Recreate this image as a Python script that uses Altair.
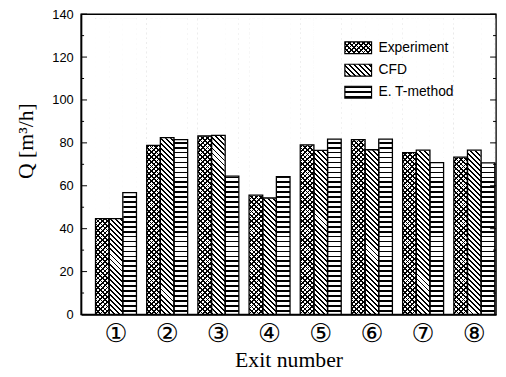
import math
import altair as alt
import pandas as pd

# ---- data ----
exits = ["①", "②", "③", "④", "⑤", "⑥", "⑦", "⑧"]
series = ["Experiment", "CFD", "E. T-method"]
experiment = [44.7, 78.8, 83.2, 55.6, 79.1, 81.5, 75.5, 73.4]
cfd = [44.7, 82.4, 83.5, 54.3, 76.5, 76.8, 76.6, 76.6]
et_method = [56.8, 81.5, 64.5, 64.3, 81.7, 81.7, 70.8, 70.7]
major_ticks = [0, 20, 40, 60, 80, 100, 120, 140]
minor_ticks = [10, 30, 50, 70, 90, 110, 130]

values = {"Experiment": experiment, "CFD": cfd, "E. T-method": et_method}
df = pd.DataFrame([
    {"exit": e, "series": s, "value": values[s][i]}
    for s in series for i, e in enumerate(exits)
])

# ---- layout / style ----
W, H = 420, 304
YMAX = 140
STRIPE_TOP = 138
P_IN, P_OUT, ALIGN = 0.2, 0.153, 0.92
step = W / (len(exits) - P_IN + 2 * P_OUT)
bar_w = step * (1 - P_IN) / len(series)
bar_h = H * STRIPE_TOP / YMAX
CLEAR = "rgba(255,255,255,0)"


def stripes(w, h, direction, period, thick, color="black", bg="white"):
    if direction == "h":
        x1, y1, x2, y2 = 0, 0, 0, 1
        D = h
    else:
        k = (w + h) / (w * w + h * h)
        D = (w + h) / math.sqrt(2)
        if direction == "back":
            x1, y1, x2, y2 = 0, 1, k * w, 1 - k * h
        else:
            x1, y1, x2, y2 = 0, 0, k * w, k * h
    n = D / period
    f = thick / period
    stops = []
    for i in range(int(math.ceil(n))):
        a = min(i / n, 1)
        b = min((i + f) / n, 1)
        c = min((i + 1) / n, 1)
        stops += [(a, color), (b, color), (b, bg), (c, bg)]
    return {
        "gradient": "linear", "x1": x1, "y1": y1, "x2": x2, "y2": y2,
        "stops": [{"offset": round(o, 6), "color": col} for o, col in stops],
    }


def patterns(s, w, h):
    if s == "Experiment":
        return [stripes(w, h, "fwd", 3.4, 1.2), stripes(w, h, "back", 3.4, 1.2, bg=CLEAR)]
    if s == "CFD":
        return [stripes(w, h, "back", 3.6, 1.4)]
    return [stripes(w, h, "h", 5.0, 1.7)]


x_scale = alt.Scale(domain=exits, paddingInner=P_IN, paddingOuter=P_OUT, align=ALIGN)
xo_scale = alt.Scale(domain=series, paddingInner=0, paddingOuter=0)
y_scale = alt.Scale(domain=[0, YMAX], nice=False, zero=True)

x_axis = alt.Axis(
    title="Exit number", labelAngle=0, ticks=False, tickSize=0, labelPadding=6,
    labelFont="DejaVu Sans", labelFontSize=26, labelColor="black",
    domain=True, domainColor="black", domainWidth=1.5, zindex=1, grid=False,
    titleFont="Liberation Serif", titleFontSize=22, titleFontWeight="normal",
    titleColor="black", titleY=53, titleBaseline="alphabetic",
)
y_axis = alt.Axis(
    values=major_ticks, title="Q [m³/h]", ticks=False, tickSize=0, labelPadding=8,
    labelFont="Liberation Sans", labelFontSize=13, labelColor="black",
    domain=True, domainColor="black", domainWidth=1.5, zindex=1, grid=False,
    titleFont="Liberation Serif", titleFontSize=22, titleFontWeight="normal",
    titleColor="black", titleAngle=270, titleX=-49, titleY=128,
    titleAlign="center", titleBaseline="alphabetic",
)

X = alt.X("exit:N", sort=exits, scale=x_scale, axis=x_axis)
XO = alt.XOffset("series:N", sort=series, scale=xo_scale)

base = alt.Chart(df).transform_calculate(stripe_top=str(STRIPE_TOP), zero="0")

layers = []
# patterned bars (uniform full-height, masked above the value)
for s in series:
    for g in patterns(s, bar_w, bar_h):
        layers.append(
            base.transform_filter(alt.datum.series == s).mark_bar(fill=g).encode(
                x=X, xOffset=XO,
                y=alt.Y("stripe_top:Q", scale=y_scale, axis=y_axis),
                y2=alt.Y2("zero:Q"),
            )
        )
# white mask above each bar
layers.append(
    base.mark_bar(fill="white", stroke="white", strokeWidth=1).encode(
        x=X, xOffset=XO,
        y=alt.Y("value:Q", scale=y_scale, axis=y_axis), y2=alt.Y2("stripe_top:Q")
    )
)
# bar outlines
layers.append(
    base.mark_bar(fillOpacity=0, stroke="black", strokeWidth=1.3).encode(
        x=X, xOffset=XO, y=alt.Y("value:Q", scale=y_scale, axis=y_axis)
    )
)


def tick_layer(vals, x0, x1):
    return alt.Chart(pd.DataFrame({"t": vals})).mark_rule(color="black", strokeWidth=1).encode(
        x=alt.value(x0), x2=alt.value(x1), y=alt.Y("t:Q", scale=y_scale, axis=y_axis)
    )


layers += [
    tick_layer(major_ticks, 0, 6), tick_layer(minor_ticks, 0, 3),
    tick_layer(major_ticks, W - 6, W), tick_layer(minor_ticks, W - 3, W),
]

# legend
leg_x0, leg_x1, leg_tx = 267, 294, 301
leg_y = [34, 56.7, 79]
SW_W, SW_H = leg_x1 - leg_x0, 12
for i, s in enumerate(series):
    one = pd.DataFrame({"name": [s]})
    yc = leg_y[i]
    for g in patterns(s, SW_W, SW_H):
        layers.append(
            alt.Chart(one).mark_rect(fill=g).encode(
                x=alt.value(leg_x0), x2=alt.value(leg_x1),
                y=alt.value(yc - SW_H / 2), y2=alt.value(yc + SW_H / 2)
            )
        )
    layers.append(
        alt.Chart(one).mark_rect(fillOpacity=0, stroke="black", strokeWidth=1.2).encode(
            x=alt.value(leg_x0), x2=alt.value(leg_x1),
            y=alt.value(yc - SW_H / 2), y2=alt.value(yc + SW_H / 2)
        )
    )
    layers.append(
        alt.Chart(one).mark_text(
            align="left", baseline="middle", font="Liberation Sans", fontSize=14, color="black"
        ).encode(x=alt.value(leg_tx), y=alt.value(yc), text="name:N")
    )

chart = alt.layer(*layers).properties(
    width=W, height=H, background="white",
    autosize=alt.AutoSizeParams(type="none"),
    padding={"left": 74, "top": 4, "right": 2, "bottom": 57},
).configure_view(stroke="black", strokeWidth=1.5)

chart.save("out.html", embed_options={"renderer": "svg", "actions": False})
